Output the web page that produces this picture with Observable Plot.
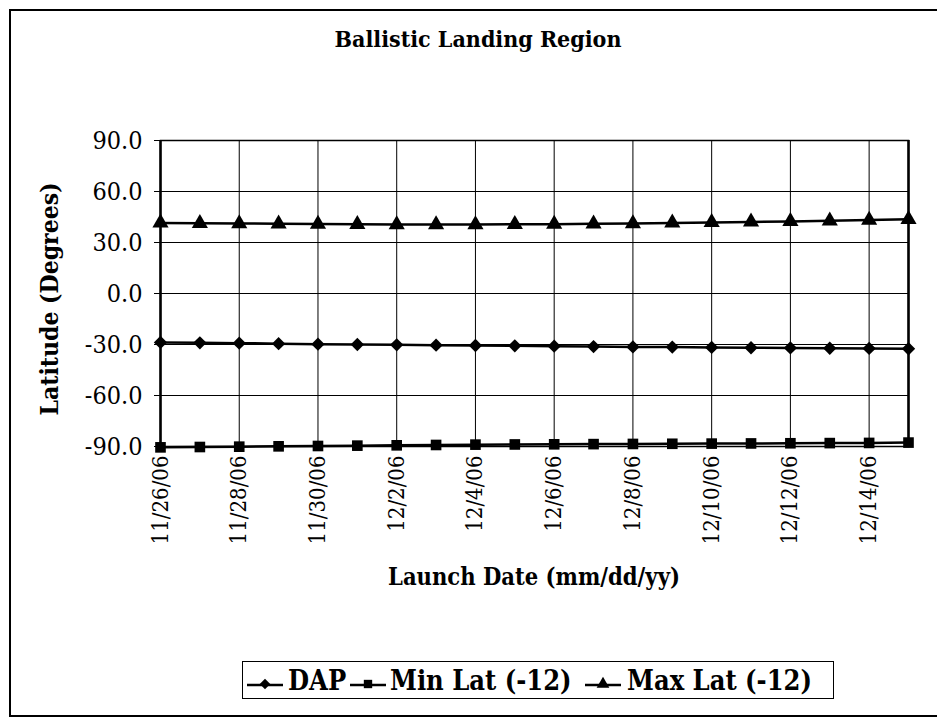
<!DOCTYPE html>
<html>
<head>
<meta charset="utf-8">
<script src="https://cdn.jsdelivr.net/npm/d3@7"></script>
<script src="https://cdn.jsdelivr.net/npm/@observablehq/plot@0.6"></script>
<style>
  html, body { margin: 0; padding: 0; background: #fff; overflow: hidden; }
  #wrap { position: relative; width: 937px; height: 722px; overflow: hidden; background: #fff; font-family: "DejaVu Serif Condensed", "DejaVu Serif", serif; color: #000; }
  .bl { position: absolute; background: #000; }
  #title { position: absolute; left: 0; width: 956px; top: 27px; text-align: center; font-weight: bold; font-size: 23px; line-height: 1; }
  #chart { position: absolute; left: 0; top: 0; }
  #ylabel { position: absolute; left: 50px; top: 299px; transform: translate(-50%, -50%) rotate(-90deg); font-weight: bold; font-size: 24.5px; white-space: nowrap; line-height: 1; }
  #xlabel { position: absolute; left: 0; width: 1068px; top: 566px; text-align: center; font-weight: bold; font-size: 23.5px; line-height: 1; }
  #legend { position: absolute; left: 242px; top: 661px; width: 590px; height: 36px; border: 1.5px solid #000; font-weight: bold; font-size: 27px; white-space: nowrap; line-height: 1; }
  #legend .item { position: absolute; top: 0; height: 36px; }
  #legend svg { position: absolute; top: 0; }
  #legend span { position: absolute; top: 5px; }
</style>
</head>
<body>
<div id="wrap">
  <div id="chart"></div>
  <div class="bl" style="left:9px;top:9px;width:940px;height:2px"></div>
  <div class="bl" style="left:9px;top:9px;width:2px;height:708px"></div>
  <div class="bl" style="left:9px;top:715px;width:940px;height:2px"></div>
  <div id="title">Ballistic Landing Region</div>
  <div id="ylabel">Latitude (Degrees)</div>
  <div id="xlabel">Launch Date (mm/dd/yy)</div>
  <div id="legend"></div>
</div>
<script>
const dates = ["2006-11-26","2006-11-27","2006-11-28","2006-11-29","2006-11-30","2006-12-01","2006-12-02","2006-12-03","2006-12-04","2006-12-05","2006-12-06","2006-12-07","2006-12-08","2006-12-09","2006-12-10","2006-12-11","2006-12-12","2006-12-13","2006-12-14","2006-12-15"];
const seriesNames = ["DAP", "Min Lat (-12)", "Max Lat (-12)"];
const dap    = [-28.8,-29.0,-29.2,-29.5,-29.8,-30.0,-30.2,-30.4,-30.6,-30.8,-31.0,-31.2,-31.4,-31.5,-31.7,-31.9,-32.0,-32.2,-32.3,-32.5];
const minLat = [-90.5,-90.3,-90.1,-89.9,-89.7,-89.5,-89.3,-89.1,-88.9,-88.8,-88.7,-88.6,-88.5,-88.4,-88.3,-88.2,-88.1,-88.0,-87.9,-87.7];
const maxLat = [41.5,41.3,41.2,41.0,40.9,40.7,40.6,40.6,40.6,40.7,40.8,41.0,41.2,41.5,41.8,42.1,42.4,42.8,43.2,43.7];
const yTicks = [-90, -60, -30, 0, 30, 60, 90];
const xTickLabels = ["2006-11-26","2006-11-28","2006-11-30","2006-12-02","2006-12-04","2006-12-06","2006-12-08","2006-12-10","2006-12-12","2006-12-14"];
const symbols = ["diamond2", "square", "triangle"];

const seriesValues = [dap, minLat, maxLat];
const rows = [];
seriesNames.forEach((s, i) => dates.forEach((d, j) => rows.push({series: s, date: new Date(d), value: seriesValues[i][j]})));
const xTicks = xTickLabels.map(d => new Date(d));
const fmt = d3.utcFormat("%-m/%-d/%y");
const serif = "'DejaVu Serif Condensed', 'DejaVu Serif', serif";

const chart = Plot.plot({
  width: 937, height: 600,
  marginLeft: 160, marginRight: 29, marginTop: 140, marginBottom: 154,
  x: {type: "utc", domain: [new Date(dates[0]), new Date(dates[dates.length - 1])]},
  y: {domain: [-90, 90]},
  symbol: {domain: seriesNames, range: symbols},
  style: {fontFamily: serif, fontSize: "21px", color: "black", background: "transparent", overflow: "visible"},
  marks: [
    Plot.gridX(xTicks, {stroke: "black", strokeOpacity: 1, strokeWidth: 1}),
    Plot.gridY(yTicks, {stroke: "black", strokeOpacity: 1, strokeWidth: 1}),
    Plot.frame({stroke: "black", strokeWidth: 1.5}),
    Plot.ruleX([new Date(dates[0]), new Date(dates[dates.length - 1])], {stroke: "black", strokeWidth: 2.5}),
    Plot.axisY(yTicks, {tickFormat: d => d.toFixed(1), tickSize: 6, tickPadding: 12, label: null, fill: "black", fontSize: 25, fontFamily: serif}),
    Plot.axisX(xTicks, {tickRotate: -90, tickFormat: fmt, tickSize: 0, tickPadding: 9, label: null, fill: "black", fontSize: 22, fontFamily: serif}),
    Plot.line(rows, {x: "date", y: "value", z: "series", stroke: "black", strokeWidth: 2.5}),
    Plot.dot(rows, {x: "date", y: "value", symbol: "series", fill: "black", stroke: "none", r: 6})
  ]
});
document.getElementById("chart").appendChild(chart);

// Legend (positions relative to legend box)
const legend = document.getElementById("legend");
const sampleX = [3, 106, 341];
const textX = [45, 147, 384];
seriesNames.forEach((s, i) => {
  const item = document.createElement("div");
  item.className = "item";
  const sym = d3.symbol().type([d3.symbolDiamond2, d3.symbolSquare, d3.symbolTriangle][i]).size(70)();
  item.innerHTML = `<svg width="38" height="36" viewBox="0 0 38 36" style="left:${sampleX[i]}px"><line x1="1" x2="37" y1="23" y2="23" stroke="black" stroke-width="2.5"/><path d="${sym}" transform="translate(19,22)" fill="black"/></svg><span style="left:${textX[i]}px">${s}</span>`;
  legend.appendChild(item);
});
</script>
</body>
</html>
